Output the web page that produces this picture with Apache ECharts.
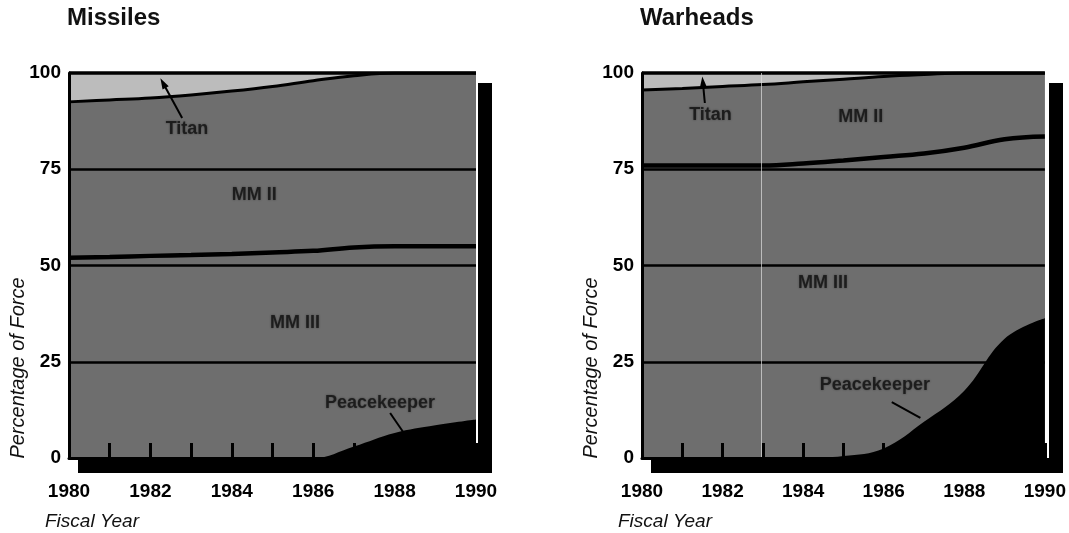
<!DOCTYPE html>
<html><head><meta charset="utf-8">
<script src="https://cdn.jsdelivr.net/npm/echarts@6/dist/echarts.min.js"></script>
<style>html,body{margin:0;padding:0;background:#fff}#c{width:1069px;height:533px}</style>
</head><body><div id="c"></div>
<script>
// ---- data ----
const years = [1980,1981,1982,1983,1984,1985,1986,1987,1988,1989,1990];
const xTickLabels = ['1980','1982','1984','1986','1988','1990'];
const yTickValues = [0,25,50,75,100];

const missilesPeacekeeper = [0,0,0,0,0,0,0,3,6.5,8.5,10];
const missilesMM3 = [52,52.2,52.5,52.7,53,53.4,53.8,51.7,48.5,46.5,45];
const missilesMM2 = [40.5,40.8,41,41.6,42.3,43.1,44.2,44.6,45,45,45];
const missilesTitan = [7.5,7,6.5,5.7,4.7,3.5,2,0.7,0,0,0];

const warheadsPeacekeeper = [0,0,0,0,0,0.5,2.5,9.4,17.5,31,36.3];
const warheadsMM3 = [76,76,76,76,76.5,76.8,75.7,69.7,63.1,51.8,47.2];
const warheadsMM2 = [19.6,20,20.5,21,21.2,21.1,20.9,20.5,19.4,17.2,16.5];
const warheadsTitan = [4.4,4,3.5,3,2.3,1.6,0.9,0.4,0,0,0];

const missilesLabels = [['Titan',1982.9,85.5],['MM II',1984.55,68.3],['MM III',1985.55,35.1],['Peacekeeper',1987.64,14.3]];
const warheadsLabels = [['Titan',1981.7,89.1],['MM II',1985.43,88.6],['MM III',1984.49,45.5],['Peacekeeper',1985.78,19.0]];
const missilesLeaders = [[[1982.78,88.3],[1982.31,97.4],true],[[1987.89,11.7],[1988.21,6.75],false]];
const warheadsLeaders = [[[1981.56,92.2],[1981.51,97.7],true],[[1986.2,14.5],[1986.91,10.4],false]];

const panelTitles = ['Missiles','Warheads'];
const yName = 'Percentage of Force';
const xName = 'Fiscal Year';

// ---- layout / style ----
const grids = [
  {left:69, top:73, width:407, height:385},
  {left:642, top:73, width:405, height:385}
];
const SANS = '"Liberation Sans",Arial,sans-serif';
const GREY = '#6e6e6e';

// running totals (stack computed from the per-system shares)
function cumulate(){
  const arrs = Array.from(arguments);
  const out = []; let run = years.map(()=>0);
  arrs.forEach(a=>{ run = run.map((v,i)=>+(v+a[i]).toFixed(2)); out.push(run.slice()); });
  return out;
}
function pairs(arr){ return years.map((y,i)=>[y,arr[i]]); }

function panelSeries(idx, pk, mm3, mm2, titan, labels, leaders){
  const [b1,b2,b3,b4] = cumulate(pk, mm3, mm2, titan);
  const common = {type:'line', xAxisIndex:idx, yAxisIndex:idx,
    showSymbol:false, smooth:0.4, silent:true, animation:false};
  // drawn top layer first; each later layer covers the one before from the baseline
  const s = [
    Object.assign({}, common, {name:'Titan', data:pairs(b4),
      lineStyle:{width:0}, areaStyle:{color:'#bcbcbc', opacity:1, origin:'start'}}),
    Object.assign({}, common, {name:'MM II', data:pairs(b3),
      lineStyle:{width:3, color:'#000'}, areaStyle:{color:GREY, opacity:1, origin:'start'}}),
    Object.assign({}, common, {name:'MM III', data:pairs(b2),
      lineStyle:{width:4.5, color:'#000'}, areaStyle:{color:GREY, opacity:1, origin:'start'}}),
    Object.assign({}, common, {name:'Peacekeeper', data:pairs(b1),
      lineStyle:{width:0}, areaStyle:{color:'#000', opacity:1, origin:'start'}})
  ];
  const refLines = yTickValues.filter(v=>v>0).map(v=>({yAxis:v,
    lineStyle:{color:'#000', width: v===100?3.5:2.5, type:'solid'}}));
  const leaderLines = leaders.map(l=>[
    {coord:l[0], symbol:'none'},
    {coord:l[1], symbol: l[2]?'triangle':'none', symbolSize:[7,11]}
  ]);
  s.push({
    type:'scatter', xAxisIndex:idx, yAxisIndex:idx, silent:true, animation:false, z:5,
    symbolSize:1, itemStyle:{color:'rgba(0,0,0,0)'},
    data: labels.map(l=>({name:l[0], value:[l[1],l[2]]})),
    label:{show:true, position:'inside', formatter:p=>p.name,
      fontFamily:SANS, fontWeight:'bold', fontSize:18, color:'#111',
      textShadowColor:'rgba(20,20,20,0.6)', textShadowBlur:2},
    markLine:{silent:true, symbol:'none', animation:false, label:{show:false},
      data: refLines.concat(leaderLines).concat(idx===1?[{xAxis:1982.95,
        lineStyle:{color:'#ddd', width:1, type:'solid', opacity:0.7}}]:[]),
      lineStyle:{color:'#000', width:2, type:'solid'}}
  });
  return s;
}

const chart = echarts.init(document.getElementById('c'), null, {renderer:'canvas'});

const xAxes = grids.map((g,i)=>({
  type:'value', gridIndex:i, min:1980, max:1990, interval:2, z:10,
  axisLine:{show:true, onZero:false, lineStyle:{color:'#000', width:3}},
  axisTick:{show:true, inside:true, length:15, lineStyle:{color:'#000', width:3}},
  minorTick:{show:true, splitNumber:2, length:15, lineStyle:{color:'#000', width:3}},
  splitLine:{show:false},
  axisLabel:{margin:24, color:'#000', fontFamily:SANS, fontWeight:'bold', fontSize:19,
    showMinLabel:true, showMaxLabel:true,
    formatter:v=>{const k=xTickLabels.indexOf(String(v)); return k>=0?xTickLabels[k]:'';}}
}));
const yAxes = grids.map((g,i)=>({
  type:'value', gridIndex:i, min:0, max:100, interval:25, z:10,
  axisLine:{show:true, lineStyle:{color:'#000', width:3}},
  axisTick:{show:false}, splitLine:{show:false},
  axisLabel:{margin:8, color:'#000', fontFamily:SANS, fontWeight:'bold', fontSize:19,
    formatter:v=>String(v)}
}));

const graphics = [];
grids.forEach((g,i)=>{
  graphics.push({type:'rect', z:-1, shape:{x:g.left+g.width+2, y:g.top+10, width:14, height:g.height+5},
    style:{fill:'#000'}});
  graphics.push({type:'rect', z:-1, shape:{x:g.left+9, y:g.top+g.height, width:g.width+7, height:15},
    style:{fill:'#000'}});
  graphics.push({type:'text', x:g.left-2, y:6, style:{text:panelTitles[i], font:'bold 24px '+SANS, fill:'#111'}});
  graphics.push({type:'text', x:g.left-24, y:512, style:{text:xName, font:'italic 19px '+SANS, fill:'#111'}});
  graphics.push({type:'text', x:g.left-51, y:368, rotation:Math.PI/2,
    style:{text:yName, font:'italic 20px '+SANS, fill:'#111', align:'center', verticalAlign:'middle'}});
});

chart.setOption({
  animation:false,
  backgroundColor:'#fff',
  grid: grids.map(g=>Object.assign({containLabel:false}, g)),
  xAxis: xAxes,
  yAxis: yAxes,
  graphic: graphics,
  series: [].concat(
    panelSeries(0, missilesPeacekeeper, missilesMM3, missilesMM2, missilesTitan, missilesLabels, missilesLeaders),
    panelSeries(1, warheadsPeacekeeper, warheadsMM3, warheadsMM2, warheadsTitan, warheadsLabels, warheadsLeaders)
  )
});
</script></body></html>
